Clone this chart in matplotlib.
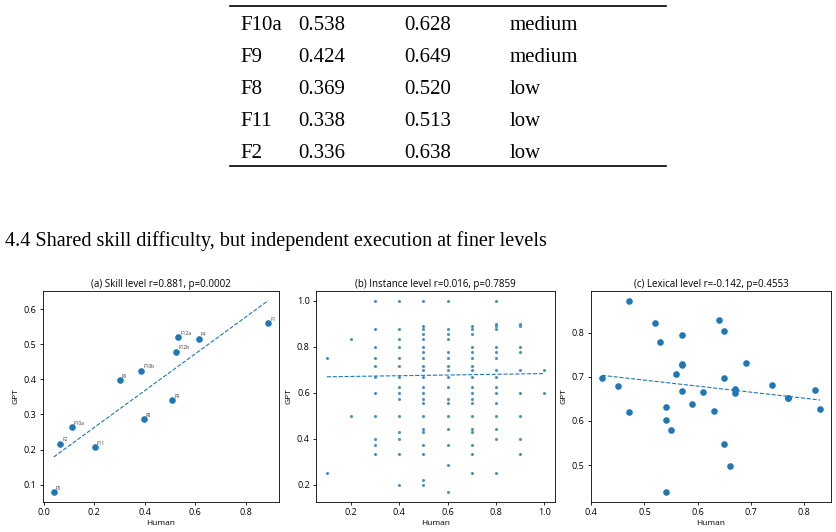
import numpy as np
import matplotlib
matplotlib.use("Agg")
from matplotlib import pyplot as plt

# table rows above the figure (skill, human, gpt, level)
tab_skill = ["F10a", "F9", "F8", "F11", "F2"]
tab_human = ["0.538", "0.424", "0.369", "0.338", "0.336"]
tab_gpt = ["0.628", "0.649", "0.520", "0.513", "0.638"]
tab_level = ["medium", "medium", "low", "low", "low"]

heading = "4.4 Shared skill difficulty, but independent execution at finer levels"

# (a) skill level
skill_names = ["F1", "F12a", "F4", "F12b", "F10b", "F6", "F9", "F8", "F10a", "F2", "F11", "F5"]
skill_human = [0.889, 0.532, 0.614, 0.524, 0.385, 0.300, 0.509, 0.395, 0.110, 0.064, 0.202, 0.039]
skill_gpt = [0.559, 0.521, 0.516, 0.479, 0.425, 0.397, 0.340, 0.288, 0.265, 0.217, 0.206, 0.078]

# (b) instance level, grouped by human score
inst_cols = {
    0.1: [0.75, 0.25],
    0.2: [0.833, 0.5],
    0.3: [1.0, 0.875, 0.8, 0.75, 0.714, 0.667, 0.6, 0.5, 0.4, 0.375, 0.333],
    0.4: [1.0, 0.875, 0.833, 0.8, 0.75, 0.714, 0.667, 0.625, 0.6, 0.571, 0.5, 0.43, 0.4, 0.333, 0.2],
    0.5: [1.0, 0.889, 0.875, 0.857, 0.833, 0.8, 0.778, 0.75, 0.714, 0.7, 0.667, 0.625, 0.6, 0.571,
          0.556, 0.5, 0.444, 0.429, 0.375, 0.333, 0.222, 0.2],
    0.6: [1.0, 0.875, 0.857, 0.833, 0.778, 0.75, 0.714, 0.7, 0.667, 0.625, 0.571, 0.556, 0.5, 0.444,
          0.375, 0.286, 0.167],
    0.7: [0.889, 0.875, 0.857, 0.8, 0.778, 0.75, 0.714, 0.7, 0.667, 0.625, 0.6, 0.571, 0.556, 0.5,
          0.444, 0.429, 0.375, 0.333, 0.25],
    0.8: [1.0, 0.9, 0.889, 0.875, 0.8, 0.778, 0.75, 0.7, 0.667, 0.625, 0.6, 0.556, 0.5, 0.444, 0.4, 0.25],
    0.9: [0.9, 0.889, 0.8, 0.778, 0.7, 0.6, 0.5, 0.4, 0.333],
    1.0: [0.7, 0.6],
}
# fitted line of (b): slope, intercept
inst_fit = (0.0156, 0.6675)

# (c) lexical level
lex_human = [0.42, 0.45, 0.47, 0.47, 0.52, 0.53, 0.54, 0.54, 0.54, 0.55, 0.56, 0.57, 0.57, 0.57, 0.57,
             0.59, 0.61, 0.63, 0.64, 0.65, 0.65, 0.65, 0.66, 0.67, 0.67, 0.67, 0.69, 0.74, 0.77, 0.77,
             0.82, 0.83]
lex_gpt = [0.697, 0.680, 0.873, 0.621, 0.823, 0.779, 0.632, 0.602, 0.438, 0.580, 0.707, 0.795, 0.730,
           0.726, 0.667, 0.638, 0.665, 0.623, 0.829, 0.805, 0.697, 0.547, 0.499, 0.673, 0.670, 0.664,
           0.732, 0.682, 0.653, 0.651, 0.670, 0.627]

titles = ["(a) Skill level r=0.881, p=0.0002",
          "(b) Instance level r=0.016, p=0.7859",
          "(c) Lexical level r=-0.142, p=0.4553"]

W, H = 836, 532
fig = plt.figure(figsize=(W / 100, H / 100), dpi=100)
plt.rcParams['font.family'] = ['Open Sans', 'DejaVu Sans']

# table part
serif = ['Liberation Serif', 'DejaVu Serif']
fig.add_artist(plt.Line2D([230 / W, 666 / W], [1 - 6 / H, 1 - 6 / H], color="black", lw=1.2))
fig.add_artist(plt.Line2D([230 / W, 666 / W], [1 - 166 / H, 1 - 166 / H], color="black", lw=1.2))
for i in range(len(tab_skill)):
    yb = 1 - (30 + 32 * i) / H
    for x, s in zip([240, 298, 404, 510], [tab_skill[i], tab_human[i], tab_gpt[i], tab_level[i]]):
        fig.text(x / W, yb, s, family=serif, fontsize=15, va="baseline", ha="left")

fig.text(5 / W, 1 - 246 / H, heading, family=serif, fontsize=14.5, va="baseline", ha="left")


def add_ax(x0, x1):
    return fig.add_axes([x0 / W, 30 / H, (x1 - x0) / W, 211 / H])


def style(ax, title):
    ax.set_title(title, fontsize=7, pad=3)
    ax.set_xlabel("Human", fontsize=6, labelpad=2)
    ax.set_ylabel("GPT", fontsize=6, labelpad=3)
    ax.tick_params(labelsize=6.5, length=2.5, width=0.6, pad=2)
    for sp in ax.spines.values():
        sp.set_linewidth(0.6)


c = "#1f77b4"

ax = add_ax(43, 279)
ax.scatter(skill_human, skill_gpt, s=14, color=c, zorder=3)
for n, x, y in zip(skill_names, skill_human, skill_gpt):
    ax.annotate(n, (x, y), xytext=(1.5, 1.5), textcoords="offset points", fontsize=3.5, color="#333333")
k, b = np.polyfit(skill_human, skill_gpt, 1)
xs = np.array([min(skill_human), max(skill_human)])
ax.plot(xs, k * xs + b, ls="--", color=c, lw=0.8)
style(ax, titles[0])

ax = add_ax(316, 555)
ix, iy = [], []
for h, vals in inst_cols.items():
    ix += [h] * len(vals)
    iy += vals
ax.scatter(ix, iy, s=5, color=c, alpha=0.8, lw=0, zorder=3)
xs = np.array([min(ix), max(ix)])
ax.plot(xs, inst_fit[0] * xs + inst_fit[1], ls="--", color=c, lw=0.8)
style(ax, titles[1])

ax = add_ax(591, 831)
ax.scatter(lex_human, lex_gpt, s=14, color=c, zorder=3)
k, b = np.polyfit(lex_human, lex_gpt, 1)
xs = np.array([min(lex_human), max(lex_human)])
ax.plot(xs, k * xs + b, ls="--", color=c, lw=0.8)
ax.set_yticks([0.5, 0.6, 0.7, 0.8])
style(ax, titles[2])

fig.savefig("out.png", dpi=100)
